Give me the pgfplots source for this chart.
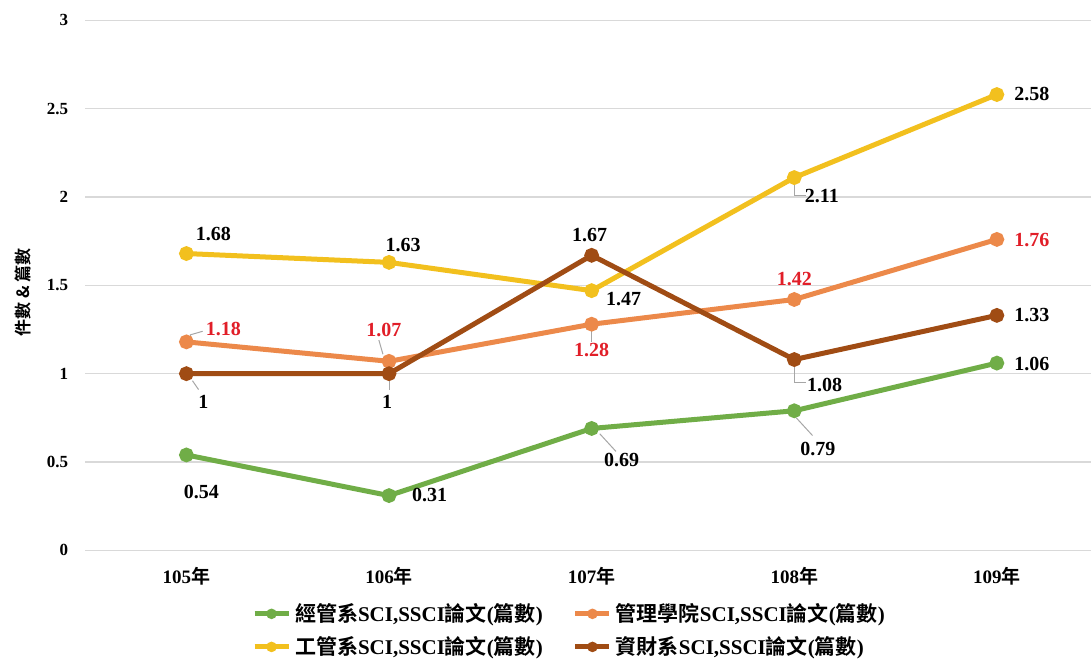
\documentclass[border=0pt]{standalone}
\usepackage{fontspec}
\setmainfont{Liberation Serif}
\newfontfamily\cjk{Noto Sans CJK TC}[BoldFont={Noto Sans CJK TC Bold}]
\usepackage{pgfplots}
\pgfplotsset{compat=1.18}
\definecolor{cgreen}{RGB}{112,173,71}
\definecolor{corange}{RGB}{236,137,74}
\definecolor{cyellow}{RGB}{242,192,30}
\definecolor{cbrown}{RGB}{160,76,20}
\definecolor{cred}{RGB}{225,30,40}
\newcommand{\lbl}[1]{{\cjk\bfseries #1}}
\begin{document}
\begin{tikzpicture}[x=1pt,y=1pt]
\path[use as bounding box] (0,0) rectangle (545.5,329.5);
\begin{axis}[
  at={(42,61.5)}, anchor=south west,
  width=503.5pt, height=265pt, scale only axis,
  xmin=-0.5, xmax=4.47, ymin=0, ymax=3,
  ytick={0,0.5,1,1.5,2,2.5,3},
  xtick={0,1,2,3,4},
  xticklabels={{\bfseries 105\lbl{年}},{\bfseries 106\lbl{年}},{\bfseries 107\lbl{年}},{\bfseries 108\lbl{年}},{\bfseries 109\lbl{年}}},
  axis line style={draw=none},
  major tick length=0pt,
  ymajorgrids, grid style={gray!30, line width=0.7pt},
  /pgf/number format/assume math mode=true,
  yticklabel style={font=\fontsize{8.5}{10}\selectfont\bfseries, xshift=-5pt},
  xticklabel style={font=\fontsize{9.5}{11}\selectfont, yshift=-5pt},
  ylabel={\lbl{件數 \& 篇數}},
  ylabel style={at={(axis description cs:-0.0616,0.487)}, anchor=center, font=\fontsize{8.5}{10}\selectfont},
  legend style={at={(axis description cs:0.482,-0.151)}, anchor=center, draw=none,
    font=\fontsize{10.5}{12}\selectfont, row sep=2pt,
    /tikz/every even column/.append style={column sep=13pt}},
  legend cell align=left,
  legend columns=2,
  legend image code/.code={\draw[mark repeat=2,mark phase=2,mark size=1.3pt] plot coordinates {(0pt,0pt) (8.5pt,0pt) (17pt,0pt)};},
  every axis plot/.append style={line width=2.5pt, mark=*, mark size=2.4pt},
  clip=false,
]
\addplot[color=cgreen] coordinates {(0,0.54) (1,0.31) (2,0.69) (3,0.79) (4,1.06)};
\addlegendentry{\lbl{經管系}\textbf{SCI,SSCI}\lbl{論文}\textbf{(}\lbl{篇數}\textbf{)}}
\addplot[color=corange] coordinates {(0,1.18) (1,1.07) (2,1.28) (3,1.42) (4,1.76)};
\addlegendentry{\lbl{管理學院}\textbf{SCI,SSCI}\lbl{論文}\textbf{(}\lbl{篇數}\textbf{)}}
\addplot[color=cyellow] coordinates {(0,1.68) (1,1.63) (2,1.47) (3,2.11) (4,2.58)};
\addlegendentry{\lbl{工管系}\textbf{SCI,SSCI}\lbl{論文}\textbf{(}\lbl{篇數}\textbf{)}}
\addplot[color=cbrown] coordinates {(0,1) (1,1) (2,1.67) (3,1.08) (4,1.33)};
\addlegendentry{\lbl{資財系}\textbf{SCI,SSCI}\lbl{論文}\textbf{(}\lbl{篇數}\textbf{)}}

% leader lines
\begin{scope}[gray!70, line width=0.5pt]
\draw (axis cs:0.015,1.15) -- (axis cs:0.02,1.22) -- (axis cs:0.08,1.24);
\draw (axis cs:0.97,1.11) -- (axis cs:0.95,1.19);
\draw (axis cs:0.03,0.96) -- (axis cs:0.06,0.91);
\draw (axis cs:1.0,0.96) -- (axis cs:1.0,0.91);
\draw (axis cs:2.0,1.24) -- (axis cs:2.0,1.18);
\draw (axis cs:2.04,0.66) -- (axis cs:2.12,0.56);
\draw (axis cs:3.0,2.07) -- (axis cs:3.0,2.01) -- (axis cs:3.06,2.01);
\draw (axis cs:3.0,1.04) -- (axis cs:3.0,0.95) -- (axis cs:3.06,0.95);
\draw (axis cs:3.01,0.75) -- (axis cs:3.09,0.65);
\end{scope}

% data labels
\begin{scope}[font=\fontsize{10}{11}\selectfont\bfseries]
\node at (axis cs:0.074,0.329) {0.54};
\node at (axis cs:1.2,0.312) {0.31};
\node at (axis cs:2.148,0.510) {0.69};
\node at (axis cs:3.116,0.573) {0.79};
\node at (axis cs:4.173,1.055) {1.06};
\node[cred] at (axis cs:0.183,1.254) {1.18};
\node[cred] at (axis cs:0.975,1.248) {1.07};
\node[cred] at (axis cs:2.0,1.134) {1.28};
\node[cred] at (axis cs:3.0,1.537) {1.42};
\node[cred] at (axis cs:4.173,1.758) {1.76};
\node at (axis cs:0.133,1.792) {1.68};
\node at (axis cs:1.07,1.730) {1.63};
\node at (axis cs:2.158,1.423) {1.47};
\node at (axis cs:3.136,2.008) {2.11};
\node at (axis cs:4.173,2.581) {2.58};
\node at (axis cs:0.084,0.839) {1};
\node at (axis cs:0.99,0.839) {1};
\node at (axis cs:1.99,1.787) {1.67};
\node at (axis cs:3.15,0.936) {1.08};
\node at (axis cs:4.173,1.333) {1.33};
\end{scope}
\end{axis}
\end{tikzpicture}
\end{document}
